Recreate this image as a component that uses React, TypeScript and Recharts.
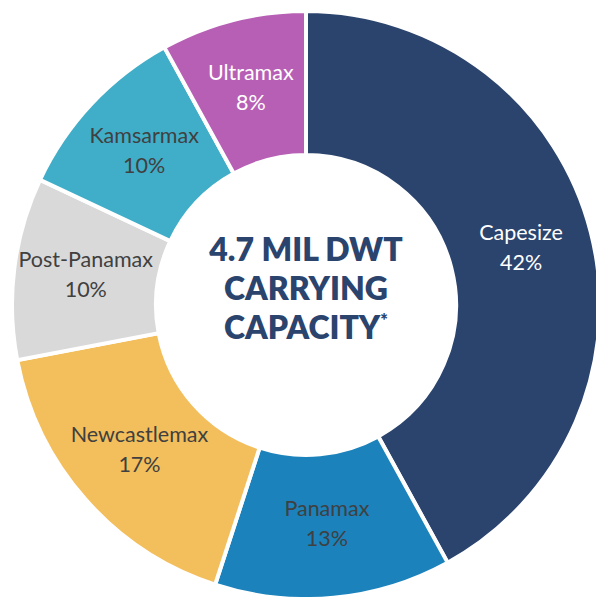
import { PieChart, Pie, Cell } from 'recharts'

const segments = ['Capesize', 'Panamax', 'Newcastlemax', 'Post-Panamax', 'Kamsarmax', 'Ultramax']
const shares = [42, 13, 17, 10, 10, 8]
const colors = ['#2B446E', '#1B82BC', '#F3BE5C', '#D9D9D9', '#40AEC8', '#B75FB5']
const labelColors = ['#FFFFFF', '#404040', '#404040', '#404040', '#404040', '#FFFFFF']
const centerLines = ['4.7 MIL DWT', 'CARRYING', 'CAPACITY']

const data = segments.map((name, i) => ({ name, value: shares[i] }))

const RADIAN = Math.PI / 180
const FONT = 'Lato, sans-serif'
const CX = 306
const CY = 305

function renderLabel(props: any) {
  const { cx, cy, midAngle, innerRadius, outerRadius, index } = props
  const r = (innerRadius + outerRadius) / 2
  const x = cx + r * Math.cos(-midAngle * RADIAN)
  const y = cy + r * Math.sin(-midAngle * RADIAN)
  return (
    <text x={x} y={y} textAnchor="middle" fill={labelColors[index]} fontFamily={FONT} fontSize={21.5}>
      <tspan x={x} dy={-10}>{segments[index]}</tspan>
      <tspan x={x} dy={30}>{shares[index]}%</tspan>
    </text>
  )
}

export default function App() {
  return (
    <div style={{ position: 'fixed', top: 0, left: 0, width: 596, height: 597, background: '#fff' }}>
      <PieChart width={596} height={597} margin={{ top: 0, right: 0, bottom: 0, left: 0 }}>
        <Pie
          data={data}
          dataKey="value"
          cx={CX}
          cy={CY}
          innerRadius={150}
          outerRadius={294}
          startAngle={90}
          endAngle={-270}
          stroke="#FFFFFF"
          strokeWidth={4}
          label={renderLabel}
          labelLine={false}
          isAnimationActive={false}
        >
          {data.map((d, i) => (
            <Cell key={d.name} fill={colors[i]} />
          ))}
        </Pie>
      </PieChart>
      <div
        style={{
          position: 'absolute',
          left: CX - 130,
          top: CY - 76,
          width: 260,
          textAlign: 'center',
          fontFamily: FONT,
          fontWeight: 800,
          fontSize: 32,
          lineHeight: '39px',
          color: '#2B446E',
        }}
      >
        <div>{centerLines[0]}</div>
        <div>{centerLines[1]}</div>
        <div>
          {centerLines[2]}
          <sup style={{ fontSize: 18, lineHeight: 0 }}>*</sup>
        </div>
      </div>
    </div>
  )
}
